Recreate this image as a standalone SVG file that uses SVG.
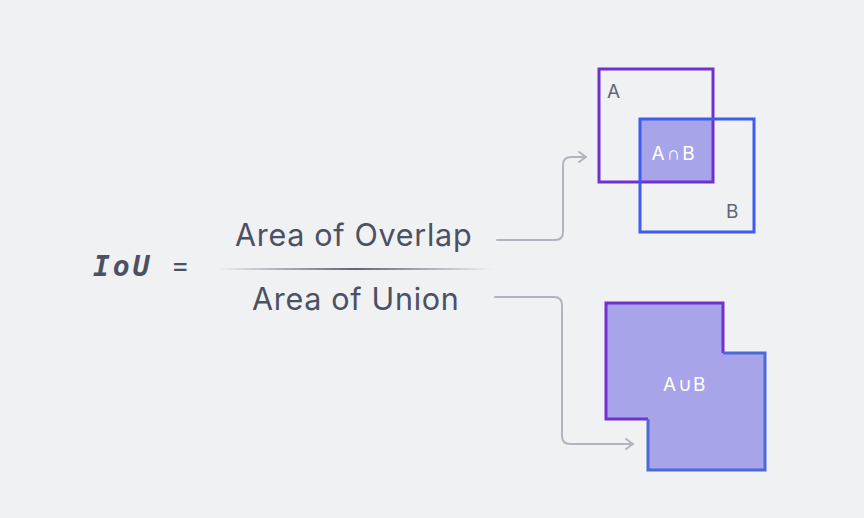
<svg xmlns="http://www.w3.org/2000/svg" width="864" height="518" viewBox="0 0 864 518">
<defs>
<style>
.t{font-family:Inter,"Noto Sans",sans-serif;fill:#4b5064}
.lbl{font-family:Inter,"Noto Sans",sans-serif;fill:#5f6478;font-size:19px}
.w{font-family:Inter,"Noto Sans",sans-serif;fill:#ffffff;font-size:19px}
.conn{fill:none;stroke:#b1b4c0;stroke-width:2;stroke-linecap:round;stroke-linejoin:round}
</style>
<linearGradient id="bar" x1="0" x2="1" y1="0" y2="0">
<stop offset="0" stop-color="#5f6479" stop-opacity="0"/>
<stop offset="0.5" stop-color="#5f6479" stop-opacity="1"/>
<stop offset="1" stop-color="#5f6479" stop-opacity="0"/>
</linearGradient>
<marker id="ah" viewBox="0 0 12 12" refX="10" refY="6" markerWidth="12" markerHeight="12" markerUnits="userSpaceOnUse" orient="auto">
<path d="M3,1 L10,6 L3,11" fill="none" stroke="#b1b4c0" stroke-width="2" stroke-linecap="round" stroke-linejoin="round"/>
</marker>
</defs>
<rect width="864" height="518" fill="#f0f1f3"/>
<g id="formula">
<text x="93" y="276" style="font-family:'DejaVu Sans Mono',monospace;font-weight:bold;font-style:italic;font-size:28px;letter-spacing:3px;fill:#4b5064">IoU</text>
<text x="171" y="275" class="t" style="font-size:28px">=</text>
<text x="235" y="246" class="t" style="font-size:30.5px;letter-spacing:0.7px">Area of Overlap</text>
<rect x="217" y="268" width="276" height="2" fill="url(#bar)"/>
<text x="252" y="310" class="t" style="font-size:30.5px;letter-spacing:0.7px">Area of Union</text>
</g>
<g id="connectors">
<path class="conn" d="M497,240 H555 Q563,240 563,232 V165 Q563,157 571,157 H586" marker-end="url(#ah)"/>
<path class="conn" d="M495,297 H554 Q562,297 562,305 V436 Q562,444 570,444 H633" marker-end="url(#ah)"/>
</g>
<g id="intersection">
<rect x="640" y="119" width="73" height="63" fill="#a8a4ea"/>
<rect x="599" y="69" width="114" height="113" fill="none" stroke="#7030d2" stroke-width="3"/>
<rect x="640" y="119" width="114" height="113" fill="none" stroke="#3d5df0" stroke-width="3"/>
<text x="607" y="98" class="lbl">A</text>
<text x="726" y="218" class="lbl">B</text>
<text x="674" y="160" class="w" text-anchor="middle" style="letter-spacing:2px">A∩B</text>
</g>
<g id="union">
<path d="M606,303 H723 V353 H765 V470 H648 V419 H606 Z" fill="#a8a4ea"/>
<path d="M648,419 H606 V303 H723 V353" fill="none" stroke="#7030d2" stroke-width="3"/>
<path d="M723,353 H765 V470 H648 V419" fill="none" stroke="#4b6ad8" stroke-width="3"/>
<text x="685" y="391" class="w" text-anchor="middle" style="letter-spacing:1.5px">A∪B</text>
</g>
</svg>
